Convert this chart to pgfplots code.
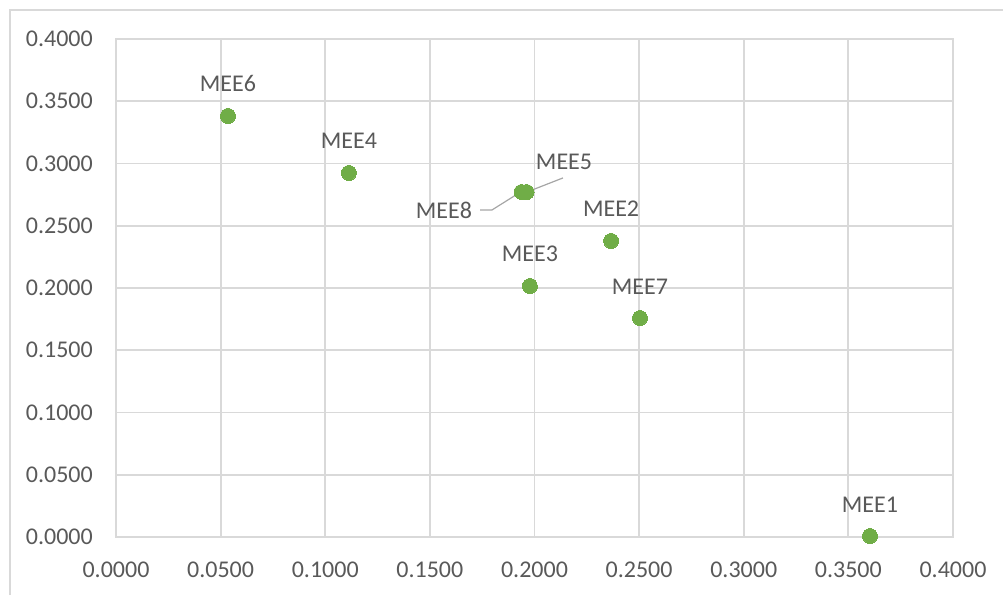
\documentclass[border=0pt]{standalone}
\usepackage{fontspec}
\setmainfont{Carlito}
\usepackage{pgfplots}
\pgfplotsset{compat=1.18}
\usepackage{pgfplotstable}

\definecolor{ptgreen}{HTML}{70AD47}
\definecolor{txtgray}{HTML}{595959}
\definecolor{gridgray}{HTML}{D9D9D9}
\definecolor{leadgray}{HTML}{A6A6A6}

% points labelled straight above
\pgfplotstableread{
x y label
0.3603 0.0008 MEE1
0.2366 0.2378 MEE2
0.1978 0.2016 MEE3
0.1113 0.2924 MEE4
0.0535 0.3382 MEE6
0.2504 0.1759 MEE7
}\mainpts
% the two overlapping ones, with leader lines
\pgfplotstableread{
x y label
0.1962 0.2771 MEE5
}\meefive
\pgfplotstableread{
x y label
0.1938 0.2771 MEE8
}\meeeight

\begin{document}
\begin{tikzpicture}[x=1pt,y=1pt]
\useasboundingbox (0,0) rectangle (1003,595);
\draw[gridgray, line width=1.3pt] (10,0) -- (10,585) -- (1003,585);
\begin{axis}[
    at={(116pt,58pt)}, anchor=south west,
    scale only axis, width=837pt, height=498pt,
    xmin=0, xmax=0.4, ymin=0, ymax=0.4,
    xtick={0,0.05,0.1,0.15,0.2,0.25,0.3,0.35,0.4},
    ytick={0,0.05,0.1,0.15,0.2,0.25,0.3,0.35,0.4},
    scaled ticks=false,
    /pgf/number format/fixed,
    /pgf/number format/fixed zerofill,
    /pgf/number format/precision=4,
    /pgf/number format/assume math mode=true,
    grid=major,
    grid style={gridgray, line width=1.8pt},
    axis line style={gridgray, line width=1.8pt},
    major tick length=0pt,
    every tick label/.append style={font=\fontsize{24}{28}\selectfont, text=txtgray},
    xticklabel style={anchor=north, inner sep=0pt, yshift=-25pt},
    yticklabel style={anchor=east, inner sep=0pt, xshift=-23pt},
    clip=false,
    label style={text=txtgray},
]
\addplot[ptgreen, only marks, mark=*, mark size=7.5pt, mark options={fill=ptgreen, draw=ptgreen, line width=0pt},
    nodes near coords, point meta=explicit symbolic,
    every node near coord/.append style={anchor=south, inner sep=0pt, yshift=24pt,
        font=\fontsize{24}{28}\selectfont, text=txtgray}]
    table[x=x, y=y, meta=label] {\mainpts};
\addplot[ptgreen, only marks, mark=*, mark size=7.5pt, mark options={fill=ptgreen, draw=ptgreen, line width=0pt},
    nodes near coords, point meta=explicit symbolic,
    every node near coord/.append style={anchor=center, inner sep=0pt, xshift=-77.5pt, yshift=-18.5pt,
        font=\fontsize{24}{28}\selectfont, text=txtgray}]
    table[x=x, y=y, meta=label] {\meeeight};
\addplot[ptgreen, only marks, mark=*, mark size=7.5pt, mark options={fill=ptgreen, draw=ptgreen, line width=0pt},
    nodes near coords, point meta=explicit symbolic,
    every node near coord/.append style={anchor=center, inner sep=0pt, xshift=37.5pt, yshift=30.5pt,
        font=\fontsize{24}{28}\selectfont, text=txtgray}]
    table[x=x, y=y, meta=label] {\meefive};
% leader lines
\draw[leadgray, line width=1.2pt] (axis cs:0.1740,0.2627) -- (axis cs:0.1797,0.2627) -- (axis cs:0.1926,0.2763);
\draw[leadgray, line width=1.2pt] (axis cs:0.1964,0.2771) -- (axis cs:0.2136,0.2884);
\end{axis}
\end{tikzpicture}
\end{document}
